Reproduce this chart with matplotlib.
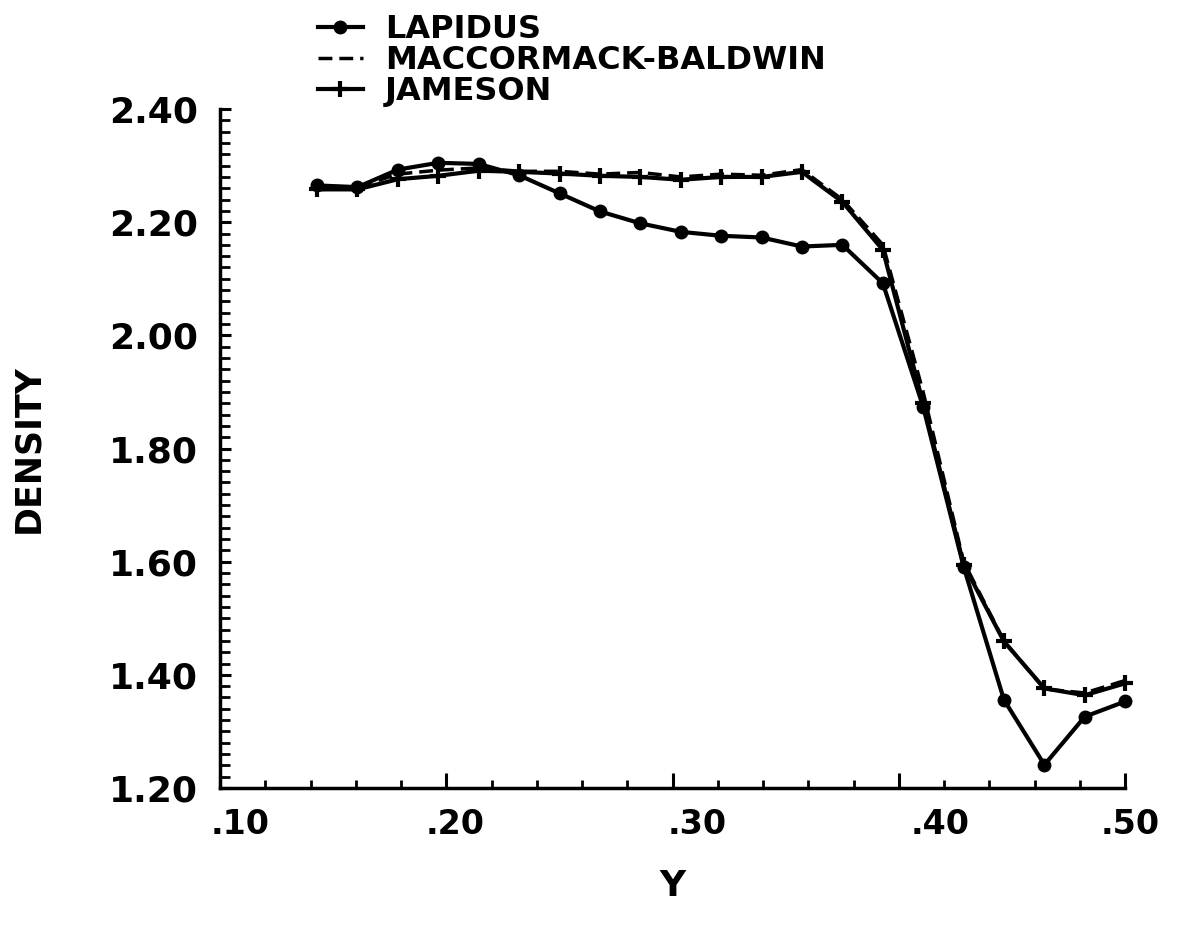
import numpy as np
import matplotlib
matplotlib.use('Agg')
import matplotlib.pyplot as plt
from matplotlib.ticker import MultipleLocator

plt.rcParams['font.family'] = ['DejaVu Sans']
plt.rcParams['font.weight'] = 'bold'

# Y positions (grid points)
y_pos = [0.1429, 0.1607, 0.1786, 0.1964, 0.2143, 0.2321, 0.2500, 0.2679, 0.2857, 0.3036, 0.3214,
         0.3393, 0.3571, 0.3750, 0.3929, 0.4107, 0.4286, 0.4464, 0.4643, 0.4821, 0.5000]

# Density for each scheme
lapidus = [2.265, 2.262, 2.293, 2.305, 2.303, 2.283, 2.251, 2.219, 2.198, 2.183, 2.176,
           2.173, 2.157, 2.160, 2.092, 1.874, 1.591, 1.356, 1.241, 1.326, 1.353]
maccormack = [2.262, 2.262, 2.285, 2.292, 2.296, 2.290, 2.290, 2.285, 2.288, 2.280, 2.285,
              2.283, 2.293, 2.240, 2.160, 1.900, 1.600, 1.460, 1.375, 1.368, 1.390]
jameson = [2.258, 2.258, 2.276, 2.282, 2.291, 2.289, 2.286, 2.282, 2.280, 2.275, 2.280,
           2.280, 2.289, 2.236, 2.151, 1.880, 1.595, 1.459, 1.376, 1.364, 1.385]

labels = ['LAPIDUS', 'MACCORMACK-BALDWIN', 'JAMESON']
xtick_vals = [0.10, 0.20, 0.30, 0.40, 0.50]
xtick_text = ['.10', '.20', '.30', '.40', '.50']
# label positions are slightly off the ticks in the original plot
xtick_text_pos = [0.109, 0.204, 0.311, 0.418, 0.502]
ytick_vals = [1.20, 1.40, 1.60, 1.80, 2.00, 2.20, 2.40]

fig = plt.figure(figsize=(11.77, 9.32), dpi=100)
ax = fig.add_axes([0.187, 0.1545, 0.769, 0.7285])

ax.plot(y_pos, lapidus, color='black', lw=3, marker='o', ms=9, clip_on=False, label=labels[0])
ax.plot(y_pos, maccormack, color='black', lw=2.5, ls=(0, (4, 2)), clip_on=False, label=labels[1])
ax.plot(y_pos, jameson, color='black', lw=3, marker='+', ms=11, mew=3, clip_on=False, label=labels[2])

ax.set_xlim(0.10, 0.50)
ax.set_ylim(1.20, 2.40)

# Axes style
for side in ['top', 'right']:
    ax.spines[side].set_visible(False)
for side in ['left', 'bottom']:
    ax.spines[side].set_linewidth(2.5)

ax.set_xticks(xtick_vals)
ax.set_xticklabels([])
ax.xaxis.set_minor_locator(MultipleLocator(0.02))
ax.tick_params(axis='x', which='major', direction='in', length=11, width=2.2)
ax.tick_params(axis='x', which='minor', direction='in', length=6, width=2)

ax.set_yticks(ytick_vals)
ax.set_yticklabels(['%.2f' % v for v in ytick_vals], fontsize=26, fontweight='bold')
ax.yaxis.set_minor_locator(MultipleLocator(0.02))
ax.tick_params(axis='y', which='major', direction='in', length=8, width=2.2, pad=16)
ax.tick_params(axis='y', which='minor', direction='in', length=7, width=2)

for pos, txt in zip(xtick_text_pos, xtick_text):
    ax.text(pos, -0.03, txt, transform=ax.get_xaxis_transform(), ha='center', va='top',
            fontsize=24, fontweight='bold')

ax.set_xlabel('Y', fontsize=26, fontweight='bold', labelpad=55)
ax.set_ylabel('DENSITY', fontsize=25, fontweight='bold', labelpad=46)

# Legend, rows packed tight like the original
ax.legend(loc='upper left', bbox_to_anchor=(318 / 1177, 1 - 14 / 932),
          bbox_transform=fig.transFigure, frameon=False,
          prop={'weight': 'bold', 'size': 23}, borderpad=0, borderaxespad=0,
          handlelength=1.4, handletextpad=0.7, labelspacing=0)

fig.savefig('out.png', dpi=100)
plt.close()
